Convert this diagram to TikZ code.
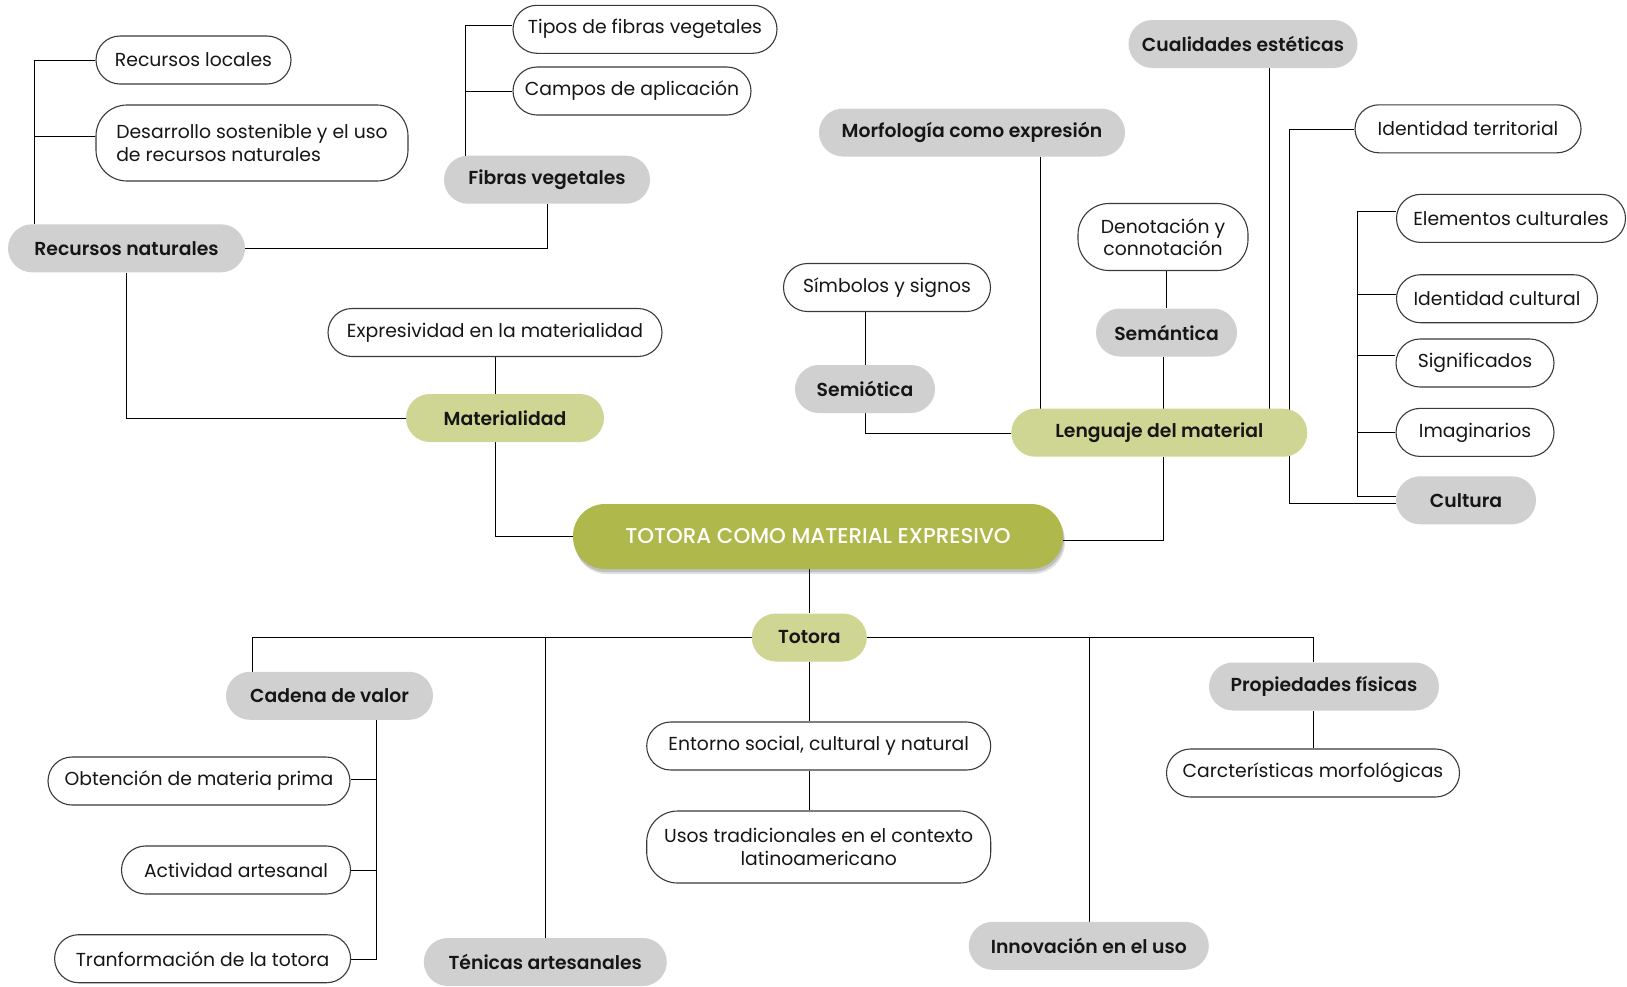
\documentclass[tikz,border=0pt]{standalone}
\usepackage{fontspec}
\setmainfont{Poppins}[BoldFont={Poppins SemiBold}]
\newfontfamily\titlefont{Poppins Medium}
\usetikzlibrary{backgrounds,shadows}

\definecolor{greyfill}{HTML}{D0D0D0}
\definecolor{leaf}{HTML}{CFD592}
\definecolor{olive}{HTML}{AFB84A}
\definecolor{wirecol}{HTML}{5E5E5E}
\definecolor{rim}{HTML}{3A3A3A}
\definecolor{ink}{HTML}{161616}

\tikzset{
  pill/.style={rounded corners=#1, inner sep=0pt, align=center, text=ink},
  pill/.default=24pt,
  topic/.style={pill, fill=greyfill, minimum height=48pt,
    font=\bfseries\fontsize{18.8}{22.5}\selectfont},
  hub/.style={pill, fill=leaf, minimum height=48pt,
    font=\bfseries\fontsize{18.8}{22.5}\selectfont},
  item/.style={pill, draw=rim, line width=1.1pt, fill=white, minimum height=48pt,
    font=\fontsize{18.8}{22.5}\selectfont},
  tallitem/.style={item, pill=31pt},
  core/.style={pill=32pt, fill=olive, text=white, minimum height=65pt,
    font=\titlefont\fontsize{21.4}{25}\selectfont,
    drop shadow={shadow xshift=2pt, shadow yshift=-5pt, opacity=0.12, fill=black},
    drop shadow={shadow xshift=1pt, shadow yshift=-3pt, opacity=0.15, fill=black}},
  wire/.style={draw=wirecol, line width=1.2pt}
}

\begin{document}
\begin{tikzpicture}[x=1pt, y=-1pt]
\useasboundingbox (0,0) rectangle (1627,986);

% central node
\node[core, minimum width=490pt] (main) at (818,536.5) {TOTORA COMO MATERIAL EXPRESIVO};

% second level
\node[hub, minimum width=198pt] (mat) at (505,418) {Materialidad};
\node[hub, minimum width=296pt] (len) at (1159.3,432.7) {Lenguaje del material};
\node[hub, minimum width=115pt] (tot) at (809.3,637.5) {Totora};

% natural resources branch
\node[topic, minimum width=237pt] (rn) at (126.5,248.3) {Recursos naturales};
\node[item, minimum width=195pt] (rl) at (193.5,60) {Recursos locales};
\node[tallitem, minimum width=312pt, minimum height=76pt, align=left] (des) at (252,143)
  {Desarrollo sostenible y el uso\\de recursos naturales};
\node[topic, minimum width=206pt] (fib) at (547,179.7) {Fibras vegetales};
\node[item, minimum width=264pt] (tip) at (645,29.3) {Tipos de fibras vegetales};
\node[item, minimum width=238pt] (cam) at (632,91) {Campos de aplicación};
\node[item, minimum width=334pt] (exp) at (495,332.5) {Expresividad en la materialidad};

% language of the material
\node[topic, minimum width=229pt] (cua) at (1243,44) {Cualidades estéticas};
\node[topic, minimum width=306pt] (mor) at (972,132.5) {Morfología como expresión};
\node[topic, minimum width=141pt] (sem) at (1166.5,332.5) {Semántica};
\node[tallitem, minimum width=170pt, minimum height=67pt] (den) at (1163,237)
  {Denotación y\\connotación};
\node[topic, minimum width=140pt] (semio) at (865,389) {Semiótica};
\node[item, minimum width=207pt] (sim) at (887,287.5) {Símbolos y signos};
\node[item, minimum width=226pt] (idt) at (1468,128.8) {Identidad territorial};
\node[item, minimum width=229pt] (ele) at (1511,218.4) {Elementos culturales};
\node[item, minimum width=201pt] (idc) at (1497,298.7) {Identidad cultural};
\node[item, minimum width=158pt] (sig) at (1475,363) {Significados};
\node[item, minimum width=158pt] (ima) at (1475,432.4) {Imaginarios};
\node[topic, minimum width=140pt] (cul) at (1466,500.3) {Cultura};

% totora branch
\node[topic, minimum width=207pt] (cad) at (329.5,695.8) {Cadena de valor};
\node[item, minimum width=302pt] (obt) at (199,781) {Obtención de materia prima};
\node[item, minimum width=229pt] (act) at (236,870) {Actividad artesanal};
\node[item, minimum width=296pt] (tra) at (202.6,958.7) {Tranformación de la totora};
\node[topic, minimum width=243pt] (ten) at (545.3,962) {Ténicas artesanales};
\node[item, minimum width=344pt] (ent) at (818.7,746) {Entorno social, cultural y natural};
\node[tallitem, minimum width=344pt, minimum height=72pt] (uso) at (818.7,847)
  {Usos tradicionales en el contexto\\latinoamericano};
\node[topic, minimum width=240pt] (inn) at (1088.8,945.8) {Innovación en el uso};
\node[topic, minimum width=230pt] (pro) at (1324,686.5) {Propiedades físicas};
\node[item, minimum width=293pt] (car) at (1313,773) {Carcterísticas morfológicas};

\begin{scope}[on background layer, wire]
  % natural resources
  \coordinate (rnT) at ([xshift=26.7pt]rn.north west);
  \draw (rnT) |- (rl.west);
  \coordinate (desJ) at ([yshift=7pt]des.west);
  \draw (desJ) -- (rnT |- desJ);
  \draw (rn.east) -| (fib.south);
  \coordinate (fibT) at ([xshift=21pt]fib.north west);
  \draw (fibT) |- ([yshift=4pt]tip.west);
  \draw (cam.west) -- (fibT |- cam.west);
  \draw (rn.south) |- (mat.west);
  \draw (exp.south) -- (exp.south |- mat.north);
  \draw (exp.south |- mat.south) |- (main.west);

  % language of the material
  \draw ([yshift=-3.5pt]main.east) -| ([xshift=3.7pt]len.south);
  \coordinate (lenN) at ([xshift=3.7pt]len.north);
  \draw (lenN) -- (lenN |- sem.south);
  \draw (sem.north) -- (sem.north |- den.south);
  \coordinate (morB) at ([xshift=68pt]mor.south);
  \draw (morB) -- (morB |- len.north);
  \coordinate (cuaB) at ([xshift=26pt]cua.south);
  \draw (cuaB) -- (cuaB |- len.north);
  \coordinate (idtL) at ([xshift=-65pt]idt.west);
  \draw (idt.west) -- (idtL) |- ([yshift=-3pt]cul.west);
  \draw (semio.north) -- (semio.north |- sim.south);
  \draw (len.west) -| (semio.south);

  % culture bracket
  \coordinate (culX) at ([xshift=-38.7pt]cul.west);
  \coordinate (eleJ) at ([yshift=7pt]ele.west);
  \coordinate (culJ) at ([yshift=4.6pt]cul.west);
  \draw (eleJ) -- (culX |- eleJ) -- (culX |- culJ) -- (culJ);
  \coordinate (idcJ) at ([yshift=4.7pt]idc.west);
  \draw (idcJ) -- (culX |- idcJ);
  \coordinate (sigJ) at ([yshift=7.4pt]sig.west);
  \draw (sigJ) -- (culX |- sigJ);
  \draw (ima.west) -- (culX |- ima.west);

  % totora
  \draw (tot.north) -- (tot.north |- main.south);
  \draw (tot.south) -- (tot.south |- ent.north);
  \draw (tot.south |- ent.south) -- (tot.south |- uso.north);
  \draw (tot.west) -| ([xshift=26.6pt]cad.north west);
  \draw (ten.north) -- (ten.north |- tot.west);
  \draw (tot.east) -| ([xshift=-11pt]pro.north);
  \draw (inn.north) -- (inn.north |- tot.east);
  \draw (car.north) -- (car.north |- pro.south);
  \coordinate (cadB) at ([xshift=47pt]cad.south);
  \draw (cadB) |- (tra.east);
  \coordinate (obtJ) at ([yshift=2pt]obt.east);
  \draw (obtJ) -- (cadB |- obtJ);
  \draw (act.east) -- (cadB |- act.east);
\end{scope}
\end{tikzpicture}
\end{document}
